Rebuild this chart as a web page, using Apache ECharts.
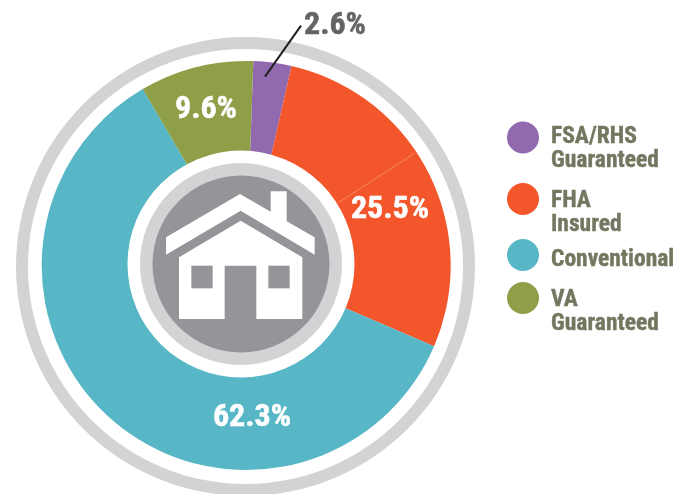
<!DOCTYPE html>
<html><head><meta charset="utf-8">
<style>html,body{margin:0;padding:0;background:#fff}#c{width:688px;height:494px}</style>
<script src="https://cdn.jsdelivr.net/npm/echarts@6/dist/echarts.min.js"></script>
</head><body><div id="c"></div>
<script>
const categories = ['FSA/RHS\nGuaranteed', 'FHA\nInsured', 'Conventional', 'VA\nGuaranteed'];
const sliceShares = [3.0, 27.9, 60.1, 9.0];
const printedLabels = ['2.6%', '25.5%', '62.3%', '9.6%'];
const colors = ['#9069ae', '#f4562b', '#58b7c6', '#8f9f48'];
const labelPositions = [[335, 26], [390, 210], [252, 418], [206, 110]];
const legendTops = [102, 160.5, 238, 259.5];
const legendBlanks = [23, 29, 10, 29];
const FONT = '"Roboto Condensed", "Liberation Sans", sans-serif';

const chart = echarts.init(document.getElementById('c'), null, {renderer: 'canvas'});
const hx = (x) => x / 3 + 120, hy = (y) => y / 3 + 150;
const pts = (a) => a.map(p => [hx(p[0]), hy(p[1])]);
const WHITE = '#ffffff', DARK = '#939598', RING = '#d1d3d4';
const roof = [[138,262],[360,132],[452,185],[452,124],[500,124],[500,214],[584,262],[584,314],[362,182],[138,314]];
const body = [[177,322],[362,212],[547,322],[547,507],[409,507],[409,347],[314,347],[314,507],[177,507]];
const windowsH = [[214,347],[445,347]];

chart.setOption({
  animation: false,
  backgroundColor: '#fff',
  legend: categories.map((name, i) => ({
    show: true, data: [name], left: 507, top: legendTops[i], padding: 0,
    orient: 'vertical', icon: 'circle', itemWidth: 32, itemHeight: 32, itemGap: 0,
    selectedMode: false,
    formatter: (n) => '{s| }\n' + n.split('\n').map(t => '{a|' + t + '}').join('\n'),
    textStyle: {
      rich: {
        s: {fontSize: 10, lineHeight: legendBlanks[i], height: legendBlanks[i]},
        a: {fontFamily: FONT, fontWeight: 'bold', fontSize: 23.5, lineHeight: 24, height: 24, color: '#72775f', padding: [0, 0, 0, 7],
            textBorderColor: '#72775f', textBorderWidth: 0.4}
      }
    }
  })),
  series: [{
    type: 'pie', center: [246.2, 265.5], radius: [100, 204.5], startAngle: 88, clockwise: true,
    silent: true, itemStyle: {borderWidth: 0},
    data: categories.map((name, i) => ({name, value: sliceShares[i], itemStyle: {color: colors[i]},
      label: {color: i === 0 ? '#636466' : '#ffffff', textBorderColor: i === 0 ? '#636466' : '#ffffff', textBorderWidth: 0.5}})),
    label: {
      show: true, position: 'inside', fontFamily: FONT, fontWeight: 'bold', fontSize: 32,
      formatter: (p) => printedLabels[p.dataIndex]
    },
    labelLine: {show: false},
    labelLayout: (p) => ({x: labelPositions[p.dataIndex][0], y: labelPositions[p.dataIndex][1], align: 'center', verticalAlign: 'middle'})
  }],
  graphic: [
    {type: 'ring', shape: {cx: 245.5, cy: 266.5, r: 229.5, r0: 217.5}, style: {fill: RING}, z: 1},
    {type: 'line', shape: {x1: 415, y1: 153, x2: 338, y2: 203}, style: {stroke: '#f9a98f', lineWidth: 0.6}, z: 5},
    {type: 'circle', shape: {cx: 241, cy: 264, r: 113.5}, style: {fill: WHITE}, z: 6},
    {type: 'circle', shape: {cx: 241, cy: 264, r: 101}, style: {fill: RING}, z: 7},
    {type: 'circle', shape: {cx: 241, cy: 264, r: 88.5}, style: {fill: DARK}, z: 8},
    {type: 'polygon', shape: {points: pts(roof)}, style: {fill: WHITE}, z: 9},
    {type: 'polygon', shape: {points: pts(body)}, style: {fill: WHITE}, z: 9},
    ...windowsH.map(w => ({type: 'rect', shape: {x: hx(w[0]), y: hy(w[1]), width: 64/3, height: 68/3}, style: {fill: DARK}, z: 10})),
    {type: 'line', shape: {x1: 265, y1: 76.7, x2: 301, y2: 25.7}, style: {stroke: '#231f20', lineWidth: 2}, z: 11}
  ]
});
</script></body></html>
